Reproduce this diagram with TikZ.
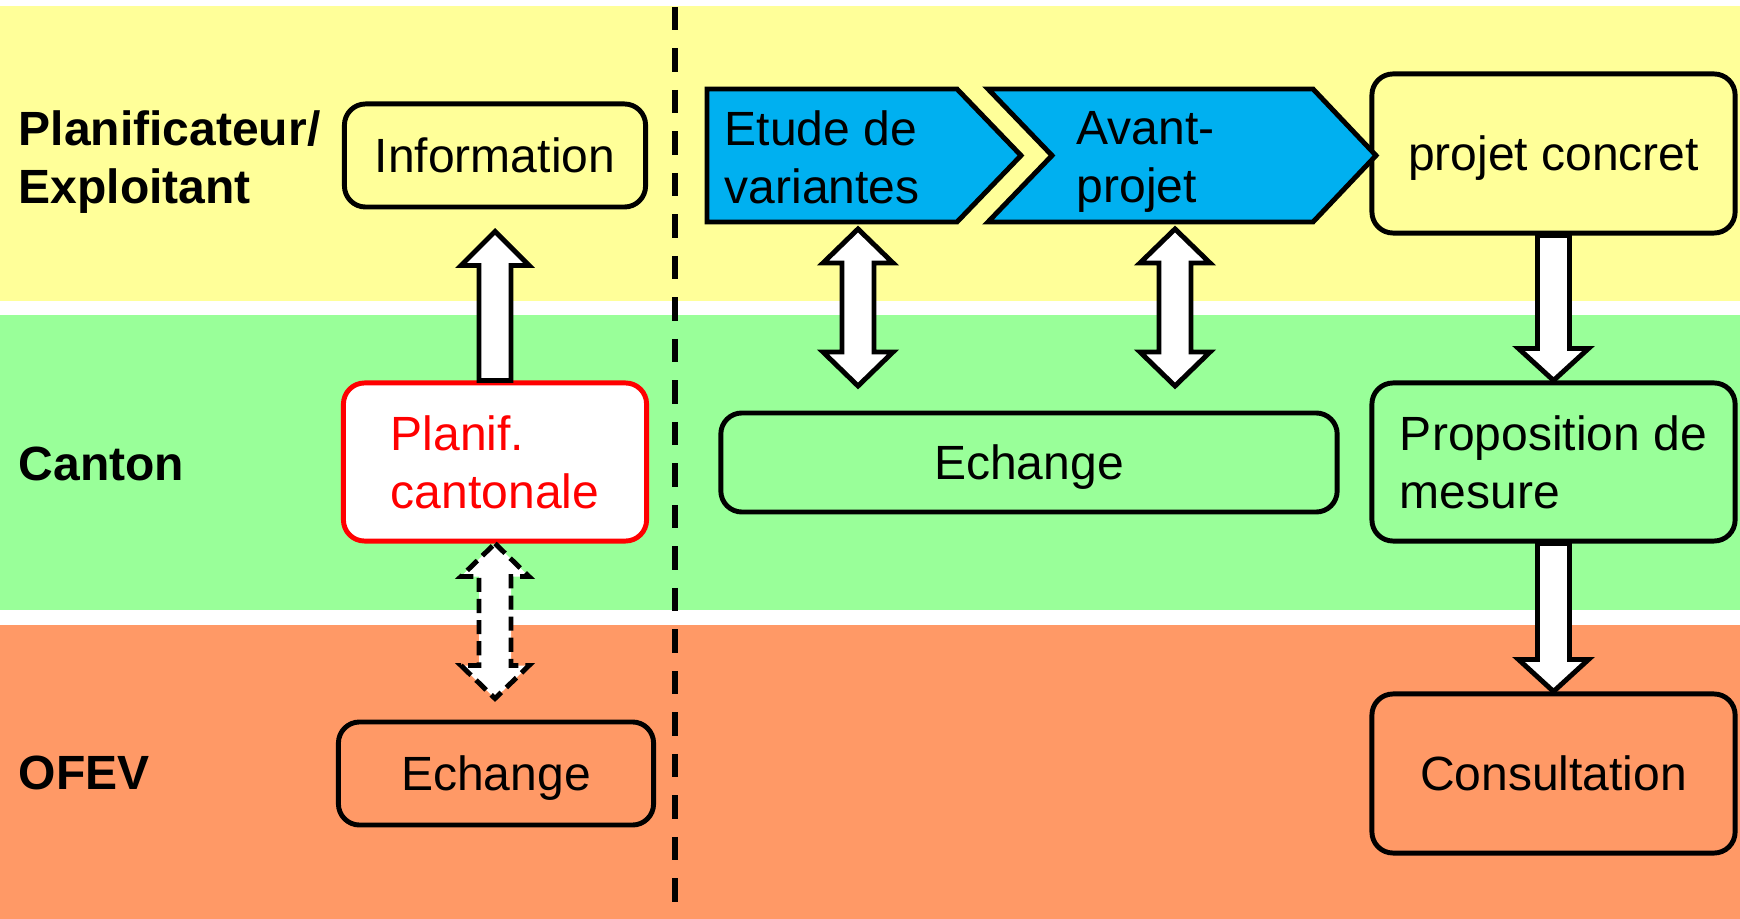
\documentclass[tikz,border=0pt]{standalone}
\usepackage{fontspec}
\setmainfont{Liberation Sans}
\usetikzlibrary{calc}

\definecolor{bandyellow}{HTML}{FFFF99}
\definecolor{bandgreen}{HTML}{99FF99}
\definecolor{bandorange}{HTML}{FF9966}
\definecolor{stepblue}{HTML}{00B0F0}
\newcommand{\diagfont}{\fontsize{13.66pt}{16.4pt}\selectfont}

\tikzset{
  box/.style={draw, line width=1.4pt, rounded corners=6pt, align=left, inner sep=0pt, text depth=0pt},
  fat/.style={draw, fill=white, line width=1.4pt, line join=miter},
  chevron/.style={draw, fill=stepblue, line width=1.4pt},
  steptext/.style={anchor=west, align=left, inner sep=0pt, text depth=0pt},
  rowlabel/.style={anchor=west, align=left, inner sep=0pt, text depth=0pt, font=\diagfont\bfseries},
}

\begin{document}
\begin{tikzpicture}[x=0.01cm, y=-0.01cm, font=\diagfont]
  \useasboundingbox (0,0) rectangle (1740,919);
  % Draw the bands
  \fill[bandyellow] (0,6) rectangle (1740,301); % Planificateur
  \fill[bandgreen] (0,315) rectangle (1740,610); % Canton
  \fill[bandorange] (0,625) rectangle (1740,919); % OFEV
  \draw[line width=1.6pt, dash pattern=on 6.6pt off 5.2pt] (675,7) -- (675,919);

  % Row labels
  \node[rowlabel] (lplan) at (18,157) {Planificateur/\\Exploitant};
  \node[rowlabel] (lcanton) at (18,464) {Canton};
  \node[rowlabel] (lofev) at (18,773) {OFEV};

  % Left part
  \node[box, fill=bandyellow, minimum width=3.01cm, minimum height=1.03cm] (info) at (495,155.5) {Information};
  \node[box, draw=red, text=red, fill=white, minimum width=3.03cm, minimum height=1.58cm] (plan) at (495,462) {Planif.\\cantonale};
  \node[box, fill=bandorange, minimum width=3.15cm, minimum height=1.03cm] (echofev) at (496,773.5) {Echange};

  % Right part
  \node[box, fill=bandgreen, minimum width=6.16cm, minimum height=0.99cm] (echange) at (1029,462.5) {Echange};
  \node[box, fill=bandyellow, minimum width=3.63cm, minimum height=1.59cm] (concret) at (1553.5,153.5) {projet concret};
  \node[box, fill=bandgreen, minimum width=3.63cm, minimum height=1.58cm] (mesure) at (1553.5,462) {Proposition de\\mesure};
  \node[box, fill=bandorange, minimum width=3.63cm, minimum height=1.59cm] (consult) at (1553.5,773.5) {Consultation};

  % Draw the steps
  \draw[chevron] (707,89) -- (957,89) -- (1021,155.5) -- (957,222) -- (707,222) -- cycle; % step 1
  \draw[chevron] (988,89) -- (1313,89) -- (1376,155.5) -- (1313,222) -- (988,222) -- (1052,155.5) -- cycle; % step 2
  \node[steptext] (etude) at (724,157) {Etude de\\variantes};
  \node[steptext] (avant) at (1076,157) {Avant-\\projet};

  % Draw the arrows
  \coordinate (infotip) at ($(info.south)+(0,22)$);
  \draw[fat] ($(plan.north)+(-16,0)$) -- ($(infotip)+(-16,34)$) -- ++(-18,0) -- (infotip) -- ++(34,34) -- ++(-18,0) -- ($(plan.north)+(16,0)$) -- cycle;

  \coordinate (vartop) at (858,229);
  \coordinate (varbot) at (858,386);
  \draw[fat] (vartop) -- ++(35,34) -- ++(-19,0) -- ($(varbot)+(16,-34)$) -- ++(19,0) -- (varbot) -- ++(-35,-34) -- ++(19,0) -- ($(vartop)+(-16,34)$) -- ++(-19,0) -- cycle;

  \coordinate (avtop) at (1175,229);
  \coordinate (avbot) at (1175,386);
  \draw[fat] (avtop) -- ++(35,34) -- ++(-19,0) -- ($(avbot)+(16,-34)$) -- ++(19,0) -- (avbot) -- ++(-35,-34) -- ++(19,0) -- ($(avtop)+(-16,34)$) -- ++(-19,0) -- cycle;

  \draw[fat] ($(concret.south)+(-16,0)$) -- ($(mesure.north)+(-16,-32)$) -- ++(-19,0) -- (mesure.north) -- ++(35,-32) -- ++(-19,0) -- ($(concret.south)+(16,0)$) -- cycle;
  \draw[fat] ($(mesure.south)+(-16,0)$) -- ($(consult.north)+(-16,-32)$) -- ++(-19,0) -- (consult.north) -- ++(35,-32) -- ++(-19,0) -- ($(mesure.south)+(16,0)$) -- cycle;

  % Dashed link to OFEV
  \coordinate (ofevtip) at ($(plan.south)+(0,155)$);
  \draw[fat, line width=1.4pt, dash pattern=on 4pt off 2pt] (plan.south) -- ++(34,33) -- ++(-18,0) -- ($(ofevtip)+(16,-33)$) -- ++(18,0) -- (ofevtip) -- ++(-34,-33) -- ++(18,0) -- ($(plan.south)+(-16,33)$) -- ++(-18,0) -- cycle;
\end{tikzpicture}
\end{document}
